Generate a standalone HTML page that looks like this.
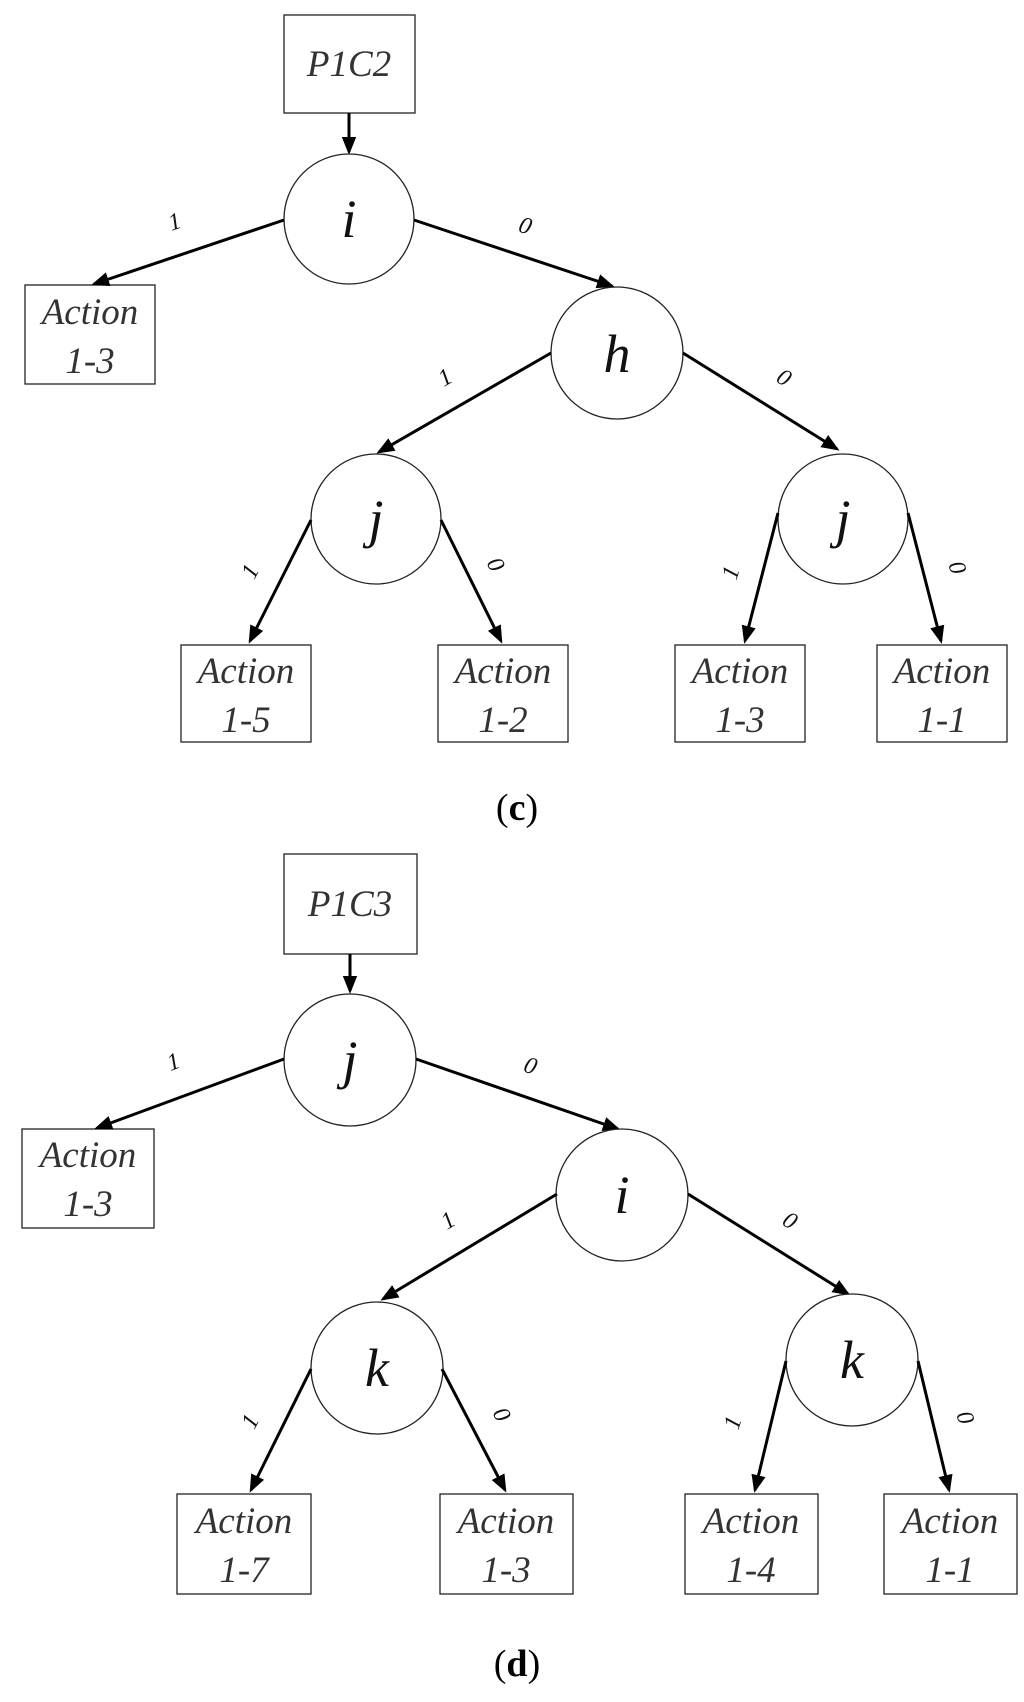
<!DOCTYPE html>
<html><head><meta charset="utf-8"><style>
html,body{margin:0;padding:0;background:#fff;}
svg{display:block;}
.b{fill:#fff;stroke:#222;stroke-width:1.3;}
.t{font-family:"Liberation Serif",serif;font-style:italic;fill:#333;text-anchor:middle;}
.a{font-size:37px;}
.n{font-size:54px;fill:#111;}
.l{font-size:24px;fill:#111;}
.e{stroke:#000;stroke-width:3;fill:none;marker-end:url(#ah);}
.cap{font-family:"Liberation Serif",serif;font-size:38px;text-anchor:middle;fill:#000;}
</style></head><body>
<svg width="1024" height="1702" viewBox="0 0 1024 1702" xmlns="http://www.w3.org/2000/svg">
<defs><marker id="ah" markerWidth="6" markerHeight="6" refX="5" refY="3" orient="auto" markerUnits="strokeWidth"><path d="M0,0.6 L6,3 L0,5.4 z" fill="#000"/></marker></defs>

<!-- (c) -->
<rect class="b" x="284" y="15" width="131" height="98"/>
<text class="t a" x="349" y="76">P1C2</text>
<line class="e" x1="349" y1="113" x2="349" y2="152"/>
<circle class="b" cx="349" cy="219" r="65"/><text class="t n" x="349" y="237">i</text>
<rect class="b" x="25" y="285" width="130" height="99"/>
<text class="t a" x="90" y="324">Action</text><text class="t a" x="90" y="373">1-3</text>
<line class="e" x1="284" y1="220" x2="94" y2="284"/>
<text class="t l" transform="translate(177,229) rotate(-18)" x="0" y="0">1</text>
<line class="e" x1="414" y1="220" x2="612" y2="286"/>
<text class="t l" transform="translate(523,233) rotate(18)" x="0" y="0">0</text>
<circle class="b" cx="617" cy="353" r="66"/><text class="t n" x="617" y="372">h</text>
<line class="e" x1="551" y1="353" x2="379" y2="452"/>
<text class="t l" transform="translate(449,384) rotate(-30)">1</text>
<line class="e" x1="683" y1="353" x2="837" y2="449"/>
<text class="t l" transform="translate(780,384) rotate(32)">0</text>
<circle class="b" cx="376" cy="519" r="65"/><text class="t n" x="376" y="537">j</text>
<circle class="b" cx="843" cy="519" r="65"/><text class="t n" x="843" y="537">j</text>
<line class="e" x1="311" y1="520" x2="250" y2="641"/>
<text class="t l" transform="translate(257,575) rotate(-62)">1</text>
<line class="e" x1="441" y1="520" x2="501" y2="641"/>
<text class="t l" transform="translate(489,568) rotate(62)">0</text>
<line class="e" x1="778" y1="513" x2="745" y2="641"/>
<text class="t l" transform="translate(738,575) rotate(-72)">1</text>
<line class="e" x1="908" y1="513" x2="941" y2="641"/>
<text class="t l" transform="translate(950,570) rotate(72)">0</text>
<rect class="b" x="181" y="645" width="130" height="97"/><text class="t a" x="246" y="683">Action</text><text class="t a" x="246" y="732">1-5</text>
<rect class="b" x="438" y="645" width="130" height="97"/><text class="t a" x="503" y="683">Action</text><text class="t a" x="503" y="732">1-2</text>
<rect class="b" x="675" y="645" width="130" height="97"/><text class="t a" x="740" y="683">Action</text><text class="t a" x="740" y="732">1-3</text>
<rect class="b" x="877" y="645" width="130" height="97"/><text class="t a" x="942" y="683">Action</text><text class="t a" x="942" y="732">1-1</text>
<text class="cap" x="517" y="820"><tspan>(</tspan><tspan font-weight="bold">c</tspan><tspan>)</tspan></text>

<!-- (d) -->
<rect class="b" x="284" y="854" width="133" height="100"/>
<text class="t a" x="350" y="916">P1C3</text>
<line class="e" x1="350" y1="954" x2="350" y2="991"/>
<circle class="b" cx="350" cy="1060" r="66"/><text class="t n" x="350" y="1078">j</text>
<rect class="b" x="22" y="1129" width="132" height="99"/>
<text class="t a" x="88" y="1167">Action</text><text class="t a" x="88" y="1216">1-3</text>
<line class="e" x1="284" y1="1059" x2="97" y2="1128"/>
<text class="t l" transform="translate(176,1069) rotate(-20)">1</text>
<line class="e" x1="416" y1="1059" x2="618" y2="1129"/>
<text class="t l" transform="translate(528,1073) rotate(19)">0</text>
<circle class="b" cx="622" cy="1195" r="66"/><text class="t n" x="622" y="1213">i</text>
<line class="e" x1="557" y1="1194" x2="383" y2="1299"/>
<text class="t l" transform="translate(452,1227) rotate(-31)">1</text>
<line class="e" x1="688" y1="1194" x2="848" y2="1294"/>
<text class="t l" transform="translate(786,1227) rotate(32)">0</text>
<circle class="b" cx="377" cy="1368" r="66"/><text class="t n" x="377" y="1386">k</text>
<circle class="b" cx="852" cy="1360" r="66"/><text class="t n" x="852" y="1378">k</text>
<line class="e" x1="311" y1="1369" x2="251" y2="1490"/>
<text class="t l" transform="translate(257,1425) rotate(-62)">1</text>
<line class="e" x1="442" y1="1369" x2="505" y2="1490"/>
<text class="t l" transform="translate(495,1418) rotate(62)">0</text>
<line class="e" x1="786" y1="1361" x2="755" y2="1490"/>
<text class="t l" transform="translate(740,1425) rotate(-72)">1</text>
<line class="e" x1="918" y1="1361" x2="949" y2="1490"/>
<text class="t l" transform="translate(958,1420) rotate(72)">0</text>
<rect class="b" x="177" y="1494" width="134" height="100"/><text class="t a" x="244" y="1533">Action</text><text class="t a" x="244" y="1582">1-7</text>
<rect class="b" x="440" y="1494" width="133" height="100"/><text class="t a" x="506" y="1533">Action</text><text class="t a" x="506" y="1582">1-3</text>
<rect class="b" x="685" y="1494" width="133" height="100"/><text class="t a" x="751" y="1533">Action</text><text class="t a" x="751" y="1582">1-4</text>
<rect class="b" x="884" y="1494" width="133" height="100"/><text class="t a" x="950" y="1533">Action</text><text class="t a" x="950" y="1582">1-1</text>
<text class="cap" x="517" y="1676"><tspan>(</tspan><tspan font-weight="bold">d</tspan><tspan>)</tspan></text>
</svg>
</body></html>
